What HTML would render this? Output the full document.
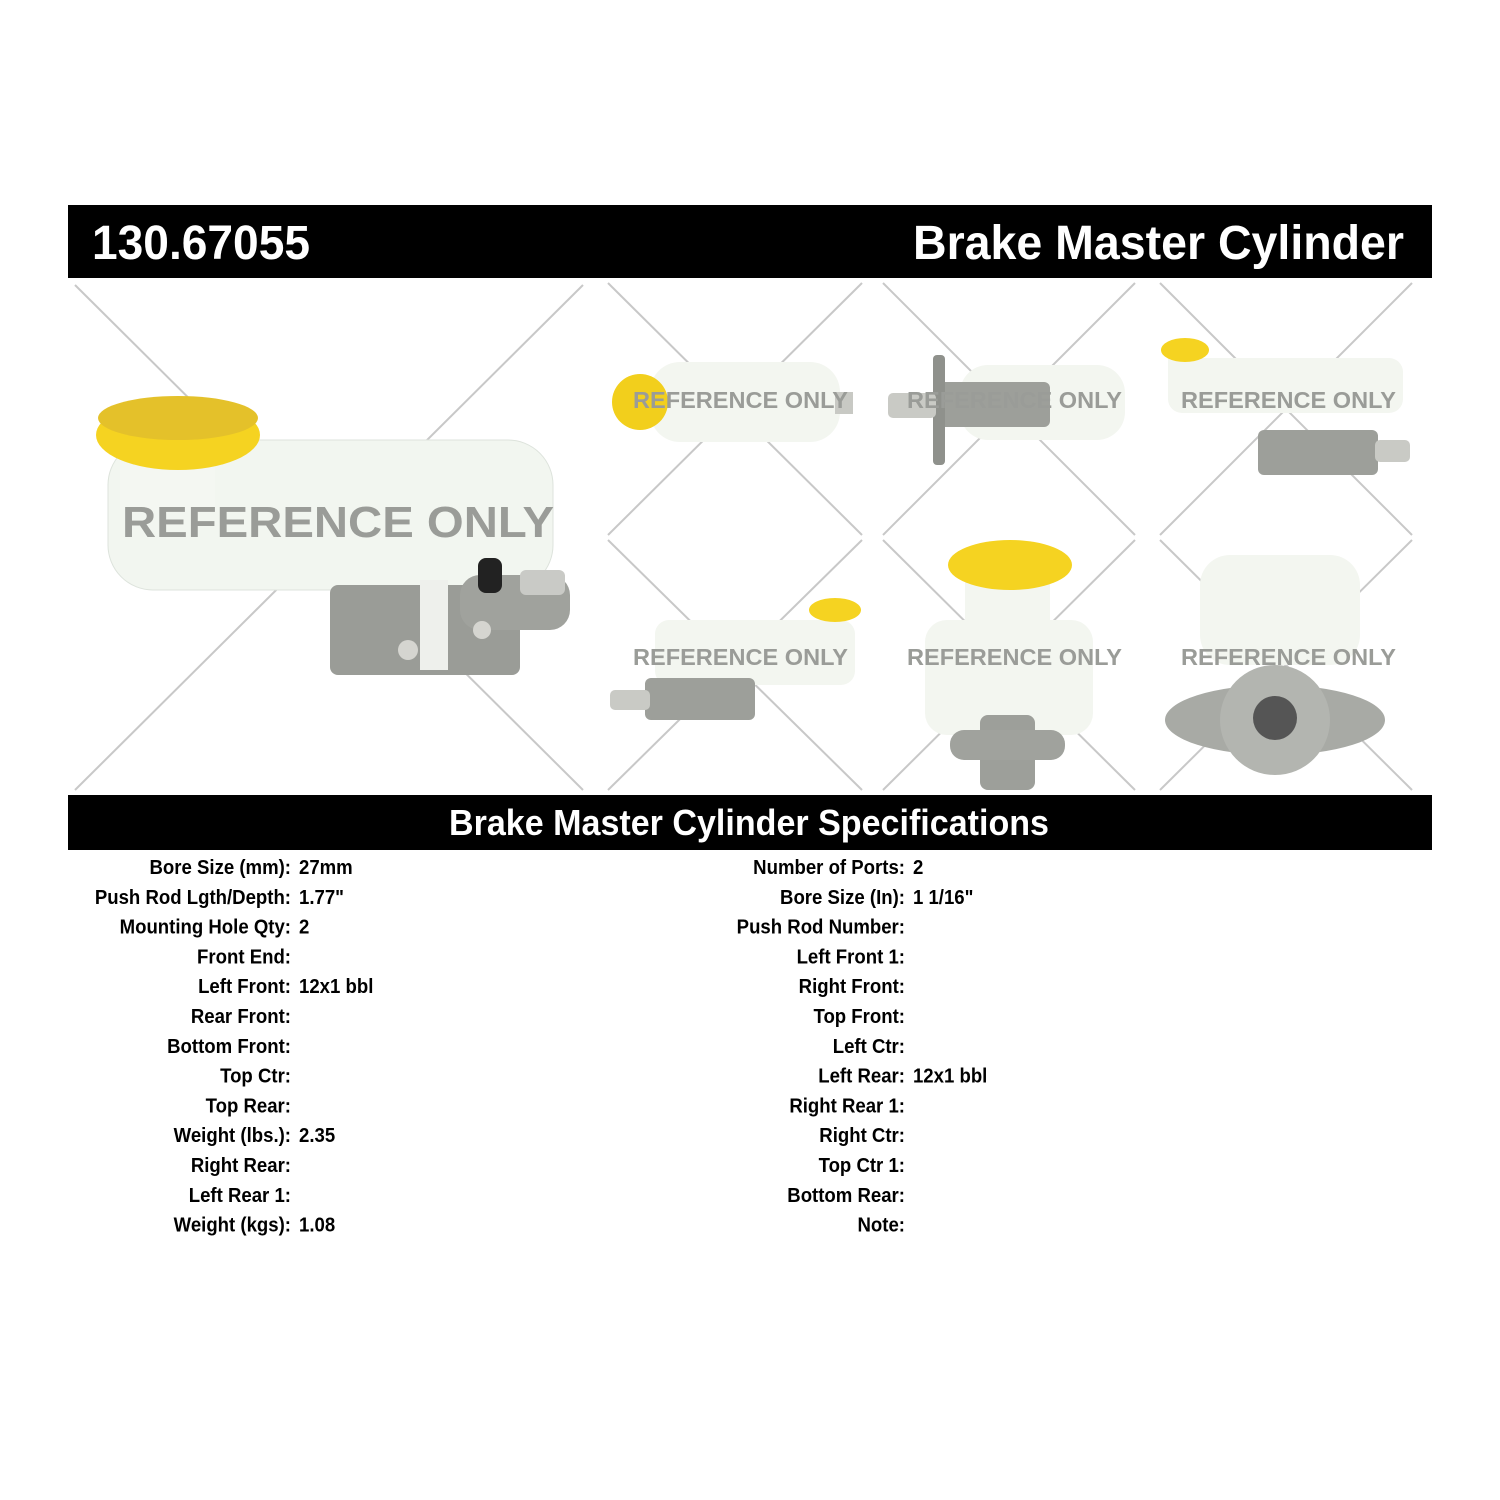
<!DOCTYPE html>
<html><head><meta charset="utf-8"><style>html,body{margin:0;padding:0;background:#fff}svg{display:block}</style></head><body>
<svg width="1500" height="1500" viewBox="0 0 1500 1500" xmlns="http://www.w3.org/2000/svg" font-family="Liberation Sans, Arial, sans-serif" font-weight="bold">
<rect width="1500" height="1500" fill="#fff"/>
<rect x="68" y="205" width="1364" height="73" fill="#000"/>
<text x="92" y="259" font-size="48" fill="#fff" textLength="218" lengthAdjust="spacingAndGlyphs">130.67055</text>
<text x="913" y="259" font-size="48" fill="#fff" textLength="491" lengthAdjust="spacingAndGlyphs">Brake Master Cylinder</text>
<g stroke="#c8c8c8" stroke-width="2">
<line x1="75" y1="285" x2="583" y2="790"/><line x1="583" y1="285" x2="75" y2="790"/>
<line x1="608" y1="283" x2="862" y2="535"/><line x1="862" y1="283" x2="608" y2="535"/>
<line x1="883" y1="283" x2="1135" y2="535"/><line x1="1135" y1="283" x2="883" y2="535"/>
<line x1="1160" y1="283" x2="1412" y2="535"/><line x1="1412" y1="283" x2="1160" y2="535"/>
<line x1="608" y1="540" x2="862" y2="790"/><line x1="862" y1="540" x2="608" y2="790"/>
<line x1="883" y1="540" x2="1135" y2="790"/><line x1="1135" y1="540" x2="883" y2="790"/>
<line x1="1160" y1="540" x2="1412" y2="790"/><line x1="1412" y1="540" x2="1160" y2="790"/>
</g>
<rect x="108" y="440" width="445" height="150" rx="45" fill="#f2f6f0" stroke="#dde3dc"/>
<rect x="120" y="450" width="95" height="60" fill="#f4f7f2"/>
<rect x="330" y="585" width="190" height="90" rx="8" fill="#9a9c97"/>
<rect x="460" y="575" width="110" height="55" rx="20" fill="#a0a29d"/>
<rect x="520" y="570" width="45" height="25" rx="6" fill="#c9cac6"/>
<rect x="420" y="580" width="28" height="90" fill="#eef0ec"/>
<rect x="478" y="558" width="24" height="35" rx="8" fill="#222"/>
<circle cx="408" cy="650" r="10" fill="#d5d5d0"/><circle cx="482" cy="630" r="9" fill="#d5d5d0"/>
<ellipse cx="178" cy="435" rx="82" ry="35" fill="#f5d321"/>
<ellipse cx="178" cy="418" rx="80" ry="22" fill="#e4c12a"/>
<text x="122" y="537" font-size="44" fill="#9a9c98" textLength="432" lengthAdjust="spacingAndGlyphs">REFERENCE ONLY</text>
<rect x="650" y="362" width="190" height="80" rx="30" fill="#f3f6f0"/>
<rect x="835" y="392" width="18" height="22" fill="#c8c9c4"/>
<circle cx="640" cy="402" r="28" fill="#f2cf1c"/>
<rect x="960" y="365" width="165" height="75" rx="28" fill="#f3f6f0"/>
<rect x="935" y="382" width="115" height="45" rx="6" fill="#9d9f9a"/>
<rect x="933" y="355" width="12" height="110" rx="4" fill="#8f918c"/>
<rect x="888" y="393" width="48" height="25" rx="5" fill="#c9cac5"/>
<rect x="1168" y="358" width="235" height="55" rx="14" fill="#f3f6f0"/>
<rect x="1168" y="352" width="30" height="40" fill="#f3f6f0"/>
<ellipse cx="1185" cy="350" rx="24" ry="12" fill="#f5d321"/>
<rect x="1258" y="430" width="120" height="45" rx="6" fill="#9d9f9a"/>
<rect x="1375" y="440" width="35" height="22" rx="5" fill="#c9cac5"/>
<rect x="655" y="620" width="200" height="65" rx="14" fill="#f3f6f0"/>
<ellipse cx="835" cy="610" rx="26" ry="12" fill="#f5d321"/>
<rect x="645" y="678" width="110" height="42" rx="6" fill="#9d9f9a"/>
<rect x="610" y="690" width="40" height="20" rx="5" fill="#c9cac5"/>
<rect x="925" y="620" width="168" height="115" rx="22" fill="#f3f6f0"/>
<rect x="965" y="578" width="85" height="50" fill="#f3f6f0"/>
<ellipse cx="1010" cy="565" rx="62" ry="25" fill="#f5d321"/>
<rect x="980" y="715" width="55" height="75" rx="8" fill="#9d9f9a"/>
<rect x="950" y="730" width="115" height="30" rx="14" fill="#a0a29d"/>
<rect x="1200" y="555" width="160" height="110" rx="30" fill="#f3f6f0"/>
<ellipse cx="1275" cy="720" rx="110" ry="35" fill="#a8aaa5"/>
<circle cx="1275" cy="720" r="55" fill="#b3b5b0"/>
<circle cx="1275" cy="718" r="22" fill="#555"/>
<g font-size="23" fill="#9a9c98">
<text x="633" y="408" textLength="215" lengthAdjust="spacingAndGlyphs">REFERENCE ONLY</text>
<text x="907" y="408" textLength="215" lengthAdjust="spacingAndGlyphs">REFERENCE ONLY</text>
<text x="1181" y="408" textLength="215" lengthAdjust="spacingAndGlyphs">REFERENCE ONLY</text>
<text x="633" y="665" textLength="215" lengthAdjust="spacingAndGlyphs">REFERENCE ONLY</text>
<text x="907" y="665" textLength="215" lengthAdjust="spacingAndGlyphs">REFERENCE ONLY</text>
<text x="1181" y="665" textLength="215" lengthAdjust="spacingAndGlyphs">REFERENCE ONLY</text>
</g>
<rect x="68" y="795" width="1364" height="55" fill="#000"/>
<text x="449" y="835" font-size="36" fill="#fff" textLength="600" lengthAdjust="spacingAndGlyphs">Brake Master Cylinder Specifications</text>
<g font-size="20" fill="#000" transform="scale(0.93 1)">
<g text-anchor="end">
<text x="312.9" y="874">Bore Size (mm):</text>
<text x="312.9" y="903.8">Push Rod Lgth/Depth:</text>
<text x="312.9" y="933.6">Mounting Hole Qty:</text>
<text x="312.9" y="963.4">Front End:</text>
<text x="312.9" y="993.2">Left Front:</text>
<text x="312.9" y="1023">Rear Front:</text>
<text x="312.9" y="1052.8">Bottom Front:</text>
<text x="312.9" y="1082.6">Top Ctr:</text>
<text x="312.9" y="1112.4">Top Rear:</text>
<text x="312.9" y="1142.2">Weight (lbs.):</text>
<text x="312.9" y="1172">Right Rear:</text>
<text x="312.9" y="1201.8">Left Rear 1:</text>
<text x="312.9" y="1231.6">Weight (kgs):</text>
<text x="973.1" y="874">Number of Ports:</text>
<text x="973.1" y="903.8">Bore Size (In):</text>
<text x="973.1" y="933.6">Push Rod Number:</text>
<text x="973.1" y="963.4">Left Front 1:</text>
<text x="973.1" y="993.2">Right Front:</text>
<text x="973.1" y="1023">Top Front:</text>
<text x="973.1" y="1052.8">Left Ctr:</text>
<text x="973.1" y="1082.6">Left Rear:</text>
<text x="973.1" y="1112.4">Right Rear 1:</text>
<text x="973.1" y="1142.2">Right Ctr:</text>
<text x="973.1" y="1172">Top Ctr 1:</text>
<text x="973.1" y="1201.8">Bottom Rear:</text>
<text x="973.1" y="1231.6">Note:</text>
</g>
<text x="321.5" y="874">27mm</text>
<text x="321.5" y="903.8">1.77"</text>
<text x="321.5" y="933.6">2</text>
<text x="321.5" y="993.2">12x1 bbl</text>
<text x="321.5" y="1142.2">2.35</text>
<text x="321.5" y="1231.6">1.08</text>
<text x="981.7" y="874">2</text>
<text x="981.7" y="903.8">1 1/16"</text>
<text x="981.7" y="1082.6">12x1 bbl</text>
</g>
</svg>
</body></html>
